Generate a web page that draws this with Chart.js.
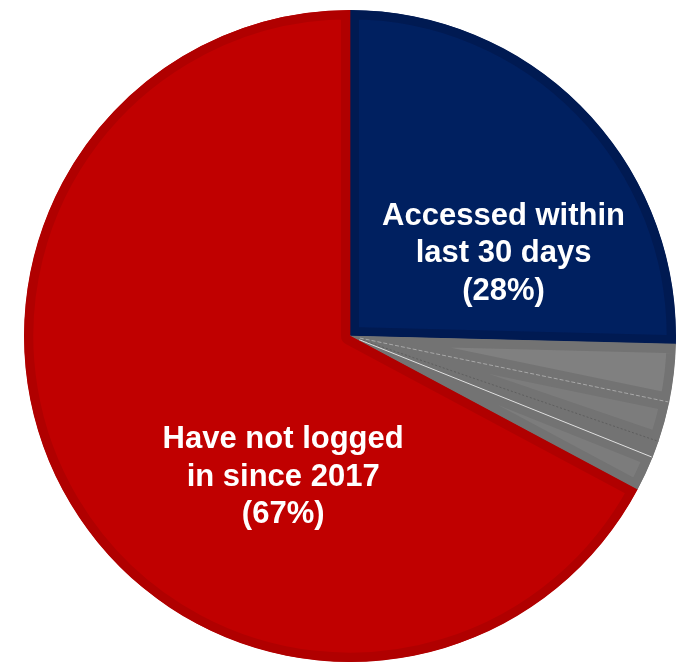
<!DOCTYPE html>
<html>
<head>
<meta charset="utf-8">
<script src="https://cdn.jsdelivr.net/npm/chart.js@4/dist/chart.umd.min.js"></script>
<style>
    body { margin: 0; background: #fff; }
    #wrap { width: 682px; height: 662px; }
</style>
</head>
<body>
<div id="wrap"><canvas id="pieChart"></canvas></div>
<script>
// slice order: clockwise from 12 o'clock
const categories = ['Accessed within last 30 days', 'Other 1', 'Other 2', 'Other 3', 'Other 4', 'Have not logged in since 2017'];
const shares = [25.4, 2.85, 1.99, 0.83, 1.75, 67.18];
const fillColors = ['#002060', '#808080', '#7c7c7c', '#7c7c7c', '#7c7c7c', '#C00000'];
const edgeColors = ['#001a52', '#737373', '#737373', '#737373', '#737373', '#b00000'];

// text shown on the two big slices: [slice index, lines, x / y offset as share of radius]
const sliceLabels = [
    [0, ['Accessed within', 'last 30 days', '(28%)'], 0.471, -0.252],
    [5, ['Have not logged', 'in since 2017', '(67%)'], -0.205, 0.433]
];

// thin lines between the grey slices, drawn at a slice's start angle
const dividers = [
    [2, '#a8a8a8', [4, 2]],
    [3, '#5e5e5e', [2, 2]],
    [4, '#e0e0e0', []]
];

const labelPlugin = {
    id: 'sliceLabels',
    afterDatasetsDraw(chart) {
        const ctx = chart.ctx;
        const arcs = chart.getDatasetMeta(0).data;
        const cx = arcs[0].x, cy = arcs[0].y, r = arcs[0].outerRadius;

        dividers.forEach(([i, color, dash]) => {
            const a = arcs[i].startAngle;
            ctx.save();
            ctx.strokeStyle = color;
            ctx.lineWidth = 1;
            ctx.setLineDash(dash);
            ctx.beginPath();
            ctx.moveTo(cx + Math.cos(a) * 10, cy + Math.sin(a) * 10);
            ctx.lineTo(cx + Math.cos(a) * (r - 1), cy + Math.sin(a) * (r - 1));
            ctx.stroke();
            ctx.restore();
        });

        ctx.save();
        ctx.fillStyle = '#ffffff';
        ctx.font = 'bold 31px "Liberation Sans", Arial, sans-serif';
        ctx.textAlign = 'center';
        ctx.textBaseline = 'middle';
        sliceLabels.forEach(([i, lines, fx, fy]) => {
            const x = cx + fx * r;
            const y = cy + fy * r;
            const lh = 37.5;
            lines.forEach((t, k) => {
                ctx.fillText(t, x, y + (k - (lines.length - 1) / 2) * lh);
            });
        });
        ctx.restore();
    }
};

new Chart(document.getElementById('pieChart'), {
    type: 'pie',
    data: {
        labels: categories,
        datasets: [{
            data: shares,
            backgroundColor: fillColors,
            borderColor: edgeColors,
            borderWidth: 9,
            borderAlign: 'inner',
            radius: 326
        }]
    },
    options: {
        responsive: true,
        maintainAspectRatio: false,
        animation: false,
        layout: {
            padding: { left: 24, right: 6, top: 10, bottom: 0 }
        },
        plugins: {
            legend: { display: false },
            tooltip: { enabled: false }
        }
    },
    plugins: [labelPlugin]
});
</script>
</body>
</html>
